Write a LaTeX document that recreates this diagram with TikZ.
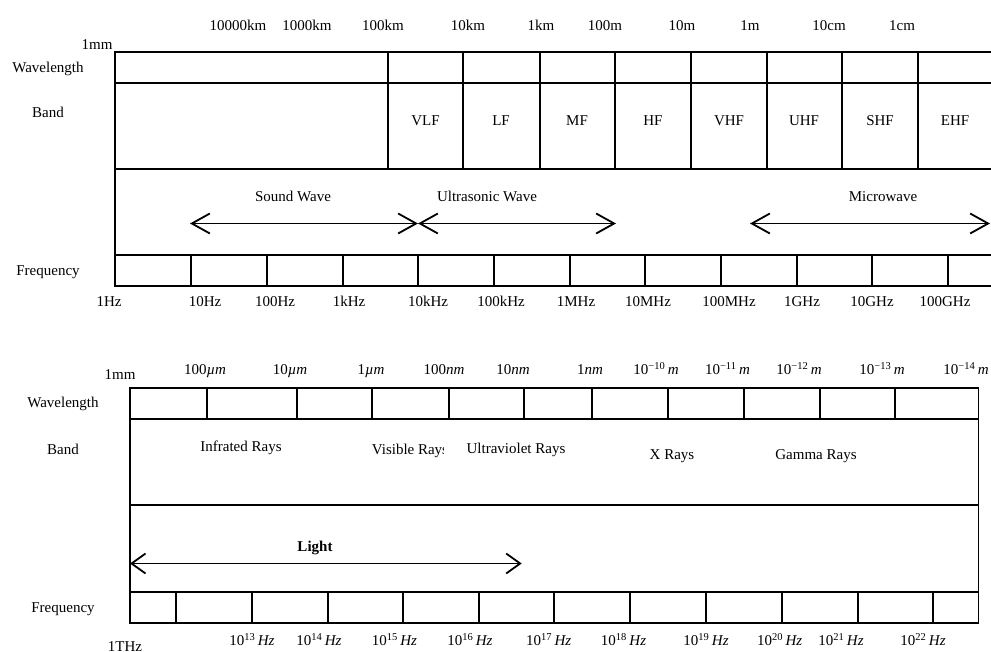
\documentclass[tikz,border=0pt]{standalone}
\usepackage{fontspec}
\setmainfont{Liberation Serif}
\usetikzlibrary{arrows.meta}
\newcommand\myhz[1]{10\textsuperscript{#1}\,\textit{Hz}}
\newcommand\mym[1]{10\textsuperscript{#1}\,\textit{m}}
\begin{document}
\begin{tikzpicture}[x=1pt,y=-1pt,
  lbl/.style={font=\fontsize{15}{18}\selectfont, inner sep=0pt, text height=10.5pt, text depth=3pt},
  gridline/.style={line width=1.8pt},
  dbl/.style={line width=1.8pt, {Straight Barb[length=18pt,width=20pt]}-{Straight Barb[length=18pt,width=20pt]}},
  dbls/.style={line width=1.8pt, {Straight Barb[length=14pt,width=20pt]}-{Straight Barb[length=14pt,width=20pt]}}]
\useasboundingbox (0,0) rectangle (991,652);

% ---------------- top chart ----------------
\draw[gridline] (995,52) -- (115,52) -- (115,286) -- (995,286);
\draw[gridline] (115,83) -- (995,83);
\draw[gridline] (115,169) -- (995,169);
\draw[gridline] (115,255) -- (995,255);
\foreach \x in {388,463,539.7,615.3,691,766.7,842.3,918}
  \draw[gridline] (\x,52) -- (\x,169);
\foreach \x in {190.7,267,342.7,418.3,494,570,645.3,721,796.7,872.3,948.3}
  \draw[gridline] (\x,255) -- (\x,286);

\node[lbl] (t1mm) at (97,46) {1mm};
\node[lbl] (twl) at (48,69) {Wavelength};
\node[lbl] (tband) at (48,114) {Band};
\node[lbl] (tfreq) at (48,272) {Frequency};

\node[lbl] (w1) at (238,27) {10000km};
\node[lbl] (w2) at (307,27) {1000km};
\node[lbl] (w3) at (383,27) {100km};
\node[lbl] (w4) at (468,27) {10km};
\node[lbl] (w5) at (541,27) {1km};
\node[lbl] (w6) at (605,27) {100m};
\node[lbl] (w7) at (682,27) {10m};
\node[lbl] (w8) at (750,27) {1m};
\node[lbl] (w9) at (829,27) {10cm};
\node[lbl] (w10) at (902,27) {1cm};

\node[lbl] (b1) at (425.5,122) {VLF};
\node[lbl] (b2) at (501,122) {LF};
\node[lbl] (b3) at (577,122) {MF};
\node[lbl] (b4) at (653,122) {HF};
\node[lbl] (b5) at (729,122) {VHF};
\node[lbl] (b6) at (804,122) {UHF};
\node[lbl] (b7) at (880,122) {SHF};
\node[lbl] (b8) at (955,122) {EHF};

\node[lbl] (snd) at (293,198) {Sound Wave};
\node[lbl] (ult) at (487,198) {Ultrasonic Wave};
\node[lbl] (mic) at (883,198) {Microwave};

\coordinate (sw1) at (190,223.5);
\coordinate (sw2) at (418,223.5);
\coordinate (us2) at (616,223.5);
\coordinate (mw1) at (750,223.5);
\coordinate (mw2) at (990,223.5);
\draw[dbl] (sw1) -- (sw2);
\draw[dbl] (sw2) -- (us2);
\draw[dbl] (mw1) -- (mw2);

\node[lbl] (f1) at (109,303) {1Hz};
\node[lbl] (f2) at (205,303) {10Hz};
\node[lbl] (f3) at (275,303) {100Hz};
\node[lbl] (f4) at (349,303) {1kHz};
\node[lbl] (f5) at (428,303) {10kHz};
\node[lbl] (f6) at (501,303) {100kHz};
\node[lbl] (f7) at (576,303) {1MHz};
\node[lbl] (f8) at (648,303) {10MHz};
\node[lbl] (f9) at (729,303) {100MHz};
\node[lbl] (f10) at (802,303) {1GHz};
\node[lbl] (f11) at (872,303) {10GHz};
\node[lbl] (f12) at (945,303) {100GHz};

% ---------------- bottom chart ----------------
\draw[gridline] (130,388.3) rectangle (978.5,622.7);
\draw[gridline] (130,419.3) -- (978.5,419.3);
\draw[gridline] (130,505) -- (978.5,505);
\draw[gridline] (130,591.7) -- (978.5,591.7);
\foreach \x in {206.7,296.7,372.3,449,524.3,592.3,668.3,744,820,895.3}
  \draw[gridline] (\x,388.3) -- (\x,419.3);
\foreach \x in {175.7,251.7,327.7,403.3,479,554.3,630,706,782,857.7,933.3}
  \draw[gridline] (\x,591.7) -- (\x,622.7);

\node[lbl] (b1mm) at (120,376) {1mm};
\node[lbl] (bwl) at (63,404) {Wavelength};
\node[lbl] (bband) at (63,451) {Band};
\node[lbl] (bfreq) at (63,609) {Frequency};

\node[lbl] (l1) at (205,371) {100\textit{µm}};
\node[lbl] (l2) at (290,371) {10\textit{µm}};
\node[lbl] (l3) at (371,371) {1\textit{µm}};
\node[lbl] (l4) at (444,371) {100\textit{nm}};
\node[lbl] (l5) at (513,371) {10\textit{nm}};
\node[lbl] (l6) at (590,371) {1\textit{nm}};
\node[lbl] (l7) at (656,371) {\mym{−10}};
\node[lbl] (l8) at (727.5,371) {\mym{−11}};
\node[lbl] (l9) at (799,371) {\mym{−12}};
\node[lbl] (l10) at (882,371) {\mym{−13}};
\node[lbl] (l11) at (966,371) {\mym{−14}};

\node[lbl] (ir) at (241,448) {Infrated Rays};
\begin{scope}
\clip (360,430) rectangle (443,470);
\node[lbl, anchor=west] (vis) at (371.7,451) {Visible Rays};
\end{scope}
\node[lbl] (uv) at (516,450) {Ultraviolet Rays};
\node[lbl] (xr) at (672,456) {X Rays};
\node[lbl] (gr) at (816,456) {Gamma Rays};

\node[lbl, font=\fontsize{15}{18}\selectfont\bfseries] (light) at (315,548) {Light};
\coordinate (lt1) at (130,563.5);
\coordinate (lt2) at (521.7,563.5);
\draw[dbls] (lt1) -- (lt2);

\node[lbl] (h0) at (125,648) {1THz};
\node[lbl] (h13) at (252,642) {\myhz{13}};
\node[lbl] (h14) at (319,642) {\myhz{14}};
\node[lbl] (h15) at (394.5,642) {\myhz{15}};
\node[lbl] (h16) at (470,642) {\myhz{16}};
\node[lbl] (h17) at (548.7,642) {\myhz{17}};
\node[lbl] (h18) at (623.5,642) {\myhz{18}};
\node[lbl] (h19) at (706,642) {\myhz{19}};
\node[lbl] (h20) at (779.7,642) {\myhz{20}};
\node[lbl] (h21) at (841,642) {\myhz{21}};
\node[lbl] (h22) at (923,642) {\myhz{22}};
\end{tikzpicture}
\end{document}
